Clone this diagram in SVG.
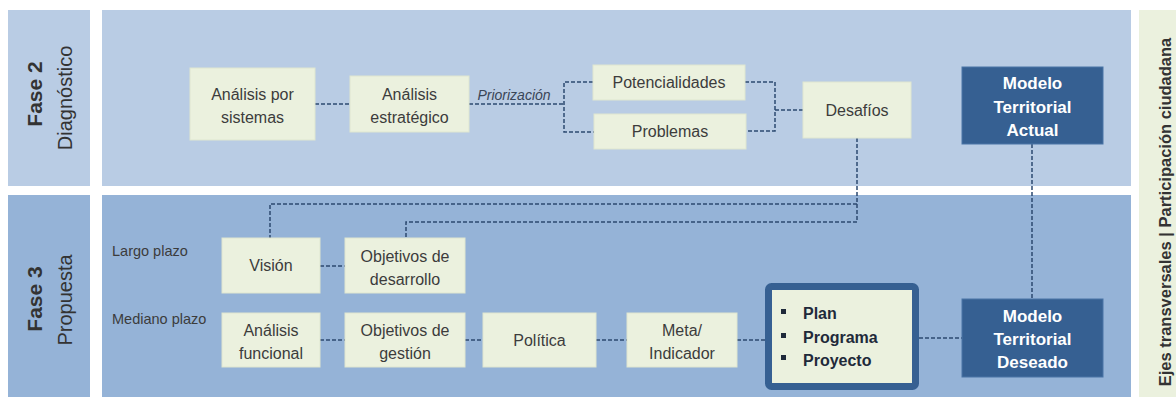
<svg xmlns="http://www.w3.org/2000/svg" width="1176" height="397" viewBox="0 0 1176 397">
<style>
.t{font-family:"Liberation Sans",Arial,sans-serif;font-size:16px;fill:#3c3c3c;text-anchor:middle}
.w{font-family:"Liberation Sans",Arial,sans-serif;font-size:17px;font-weight:bold;fill:#ffffff;text-anchor:middle}
.n{fill:#ebf1de;stroke:#dfe6d0;stroke-width:1}
.d{fill:#366092;stroke:#4a74a6;stroke-width:1}
.c{fill:none;stroke:#2c4a70;stroke-width:1.5;stroke-dasharray:4 2}
.lab{font-family:"Liberation Sans",Arial,sans-serif;font-size:14.5px;fill:#3c3c3c}
.ph{font-family:"Liberation Sans",Arial,sans-serif;fill:#333333;text-anchor:middle;dominant-baseline:central}
.b{font-family:"Liberation Sans",Arial,sans-serif;font-size:16px;font-weight:bold;fill:#1f2a3a}
</style>
<rect width="1176" height="397" fill="#ffffff"/>
<g id="panels">
<rect x="8" y="10" width="82" height="176" fill="#b9cce4"/>
<rect x="102" y="10" width="1029" height="176" fill="#b9cce4"/>
<rect x="8" y="195" width="82" height="202" fill="#95b3d7"/>
<rect x="102" y="195" width="1029" height="202" fill="#95b3d7"/>
<rect x="1139" y="10" width="37" height="387" fill="#ebf1de"/>
</g>
<g id="phase-labels">
<text class="ph" transform="translate(34,94) rotate(-90)" font-size="21" font-weight="bold">Fase 2</text>
<text class="ph" transform="translate(65,98) rotate(-90)" font-size="20">Diagnóstico</text>
<text class="ph" transform="translate(34,299) rotate(-90)" font-size="21" font-weight="bold">Fase 3</text>
<text class="ph" transform="translate(65,300) rotate(-90)" font-size="20">Propuesta</text>
<text class="ph" transform="translate(1165,212) rotate(-90)" font-size="16.5" font-weight="bold">Ejes transversales | Participación ciudadana</text>
<text class="lab" x="112" y="256">Largo plazo</text>
<text class="lab" x="112" y="324">Mediano plazo</text>
</g>
<g id="connectors">
<path class="c" d="M315,104 H350"/>
<path class="c" d="M469,104 H564"/>
<path class="c" d="M593,82 H564 V132 H594"/>
<path class="c" d="M745,82 H775 V131 H746"/>
<path class="c" d="M775,110 H803"/>
<path class="c" d="M857,138 V222 H406 V238"/>
<path class="c" d="M857,204 H270 V238"/>
<path class="c" d="M1032,144 V299"/>
<path class="c" d="M320,266 H345"/>
<path class="c" d="M320,340 H345"/>
<path class="c" d="M465,340 H483"/>
<path class="c" d="M596,340 H627"/>
<path class="c" d="M737,340 H765"/>
<path class="c" d="M919,338 H962"/>
<text x="514" y="100" font-family="Liberation Sans,Arial,sans-serif" font-size="14" font-style="italic" fill="#3a4658" text-anchor="middle">Priorización</text>
</g>
<g id="analisis-sistemas">
<rect class="n" x="190" y="68" width="125" height="72"/>
<text class="t" x="252.5" y="100">Análisis por</text>
<text class="t" x="252.5" y="123">sistemas</text>
</g>
<g id="analisis-estrategico">
<rect class="n" x="350" y="76" width="119" height="56"/>
<text class="t" x="409.5" y="100">Análisis</text>
<text class="t" x="409.5" y="123">estratégico</text>
</g>
<g id="potencialidades">
<rect class="n" x="593" y="65" width="152" height="35"/>
<text class="t" x="669" y="88">Potencialidades</text>
</g>
<g id="problemas">
<rect class="n" x="594" y="114" width="152" height="35"/>
<text class="t" x="670" y="137">Problemas</text>
</g>
<g id="desafios">
<rect class="n" x="803" y="82" width="108" height="56"/>
<text class="t" x="857" y="116">Desafíos</text>
</g>
<g id="modelo-actual">
<rect class="d" x="962" y="67" width="141" height="77"/>
<text class="w" x="1032.5" y="89">Modelo</text>
<text class="w" x="1032.5" y="113">Territorial</text>
<text class="w" x="1032.5" y="136">Actual</text>
</g>
<g id="vision">
<rect class="n" x="222" y="238" width="98" height="55"/>
<text class="t" x="271" y="271">Visión</text>
</g>
<g id="objetivos-desarrollo">
<rect class="n" x="345" y="238" width="120" height="55"/>
<text class="t" x="405" y="262">Objetivos de</text>
<text class="t" x="405" y="285">desarrollo</text>
</g>
<g id="analisis-funcional">
<rect class="n" x="222" y="313" width="98" height="54"/>
<text class="t" x="271" y="336">Análisis</text>
<text class="t" x="271" y="359">funcional</text>
</g>
<g id="objetivos-gestion">
<rect class="n" x="345" y="313" width="120" height="54"/>
<text class="t" x="405" y="336">Objetivos de</text>
<text class="t" x="405" y="359">gestión</text>
</g>
<g id="politica">
<rect class="n" x="483" y="313" width="113" height="54"/>
<text class="t" x="539.5" y="346">Política</text>
</g>
<g id="meta-indicador">
<rect class="n" x="627" y="313" width="110" height="54"/>
<text class="t" x="682" y="336">Meta/</text>
<text class="t" x="682" y="359">Indicador</text>
</g>
<g id="plan-programa-proyecto">
<rect x="768.5" y="286.5" width="147" height="100" rx="3" fill="#ebf1de" stroke="#366092" stroke-width="7"/>
<rect x="781" y="309" width="5" height="5" fill="#1f2a3a"/>
<rect x="781" y="333" width="5" height="5" fill="#1f2a3a"/>
<rect x="781" y="355" width="5" height="5" fill="#1f2a3a"/>
<text class="b" x="803" y="319">Plan</text>
<text class="b" x="803" y="343">Programa</text>
<text class="b" x="803" y="366">Proyecto</text>
</g>
<g id="modelo-deseado">
<rect class="d" x="962" y="299" width="141" height="78"/>
<text class="w" x="1032.5" y="322">Modelo</text>
<text class="w" x="1032.5" y="345">Territorial</text>
<text class="w" x="1032.5" y="368">Deseado</text>
</g>
</svg>
